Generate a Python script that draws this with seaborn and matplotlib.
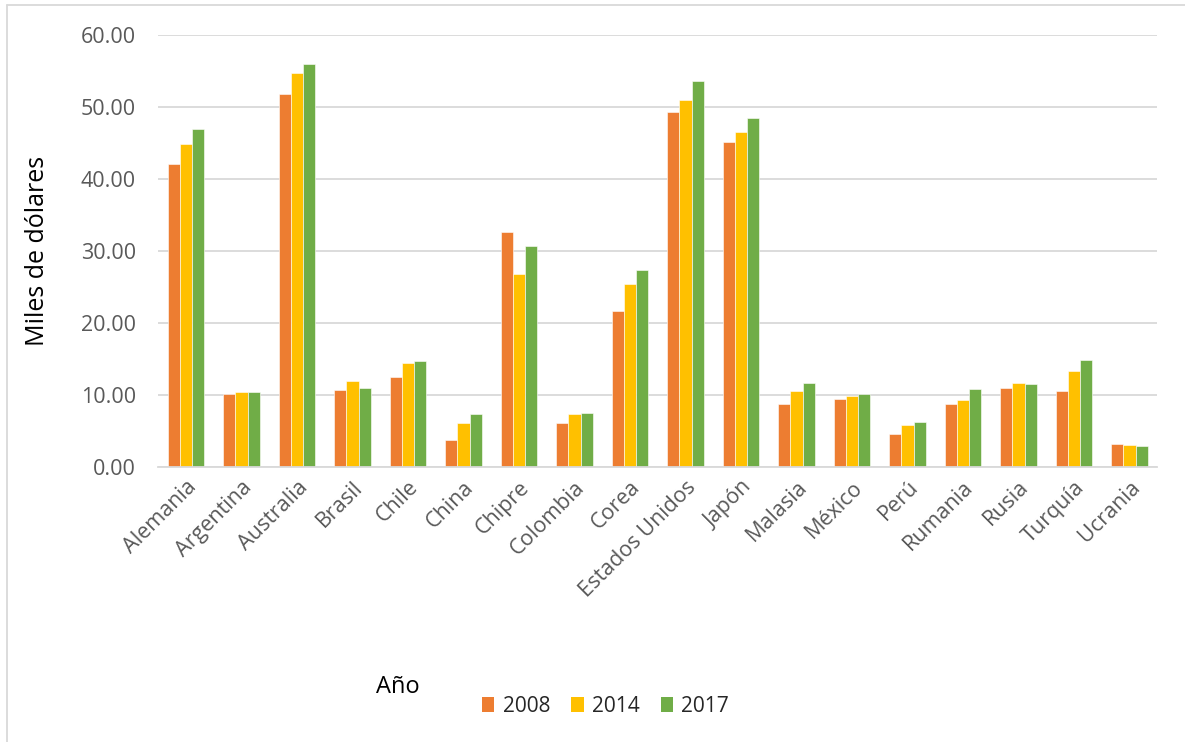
import matplotlib
matplotlib.use("Agg")
import matplotlib.pyplot as plt
from matplotlib.lines import Line2D
from matplotlib.patches import Patch
import seaborn as sns
import pandas as pd

# GDP per capita by country (thousands of dollars)
paises = ["Alemania", "Argentina", "Australia", "Brasil", "Chile", "China", "Chipre",
          "Colombia", "Corea", "Estados Unidos", "Japón", "Malasia", "México", "Perú",
          "Rumania", "Rusia", "Turquía", "Ucrania"]
anios = ["2008", "2014", "2017"]
v2008 = [42.1, 10.1, 51.8, 10.7, 12.5, 3.7, 32.6, 6.1, 21.6, 49.3, 45.1, 8.8, 9.5, 4.6, 8.8, 11.0, 10.6, 3.2]
v2014 = [44.9, 10.4, 54.7, 11.9, 14.5, 6.1, 26.8, 7.3, 25.4, 51.0, 46.5, 10.5, 9.8, 5.9, 9.3, 11.6, 13.3, 3.0]
v2017 = [46.9, 10.4, 56.0, 11.0, 14.7, 7.3, 30.7, 7.5, 27.4, 53.6, 48.5, 11.7, 10.2, 6.2, 10.9, 11.5, 14.9, 2.9]
colores = ["#ED7D31", "#FFC000", "#70AD47"]

df = pd.DataFrame({
    "pais": paises * 3,
    "anio": [a for a in anios for _ in paises],
    "valor": v2008 + v2014 + v2017,
})

sns.set_theme(style="white")
plt.rcParams["font.family"] = ["Open Sans", "DejaVu Sans"]

fig = plt.figure(figsize=(11.85, 7.42), dpi=100)
ax = fig.add_axes([0.1335, 0.3706, 0.843, 0.5822])

sns.barplot(data=df, x="pais", y="valor", hue="anio", hue_order=anios,
            palette=colores, width=0.66, gap=0, saturation=1,
            edgecolor="white", linewidth=0.4, legend=False, ax=ax)

ax.set_ylim(0, 60)
ax.set_xlim(-0.5, len(paises) - 0.5)
ax.set_yticks(range(0, 61, 10))
ax.set_yticklabels([f"{v:.2f}" for v in range(0, 61, 10)], color="#595959", fontsize=15.5)
ax.yaxis.grid(True, color="#D9D9D9", linewidth=1.3)
ax.set_axisbelow(True)
for s in ["top", "right", "left"]:
    ax.spines[s].set_visible(False)
ax.spines["bottom"].set_color("#D9D9D9")
ax.spines["bottom"].set_linewidth(1.3)
ax.tick_params(axis="y", length=0, pad=16)
ax.tick_params(axis="x", length=0, pad=7)
ax.set_xticks(range(len(paises)))
ax.set_xticklabels(paises, rotation=45, ha="right", va="top", rotation_mode="anchor",
                   color="#595959", fontsize=15.5)
ax.set_xlabel("")
ax.set_ylabel("Miles de dólares", fontsize=18, color="black")
ax.yaxis.set_label_coords(-0.108, 0.5)

fig.text(0.336, 0.066, "Año", fontsize=17, color="black", ha="center")

handles = [Patch(facecolor=c, edgecolor="none", label=a) for a, c in zip(anios, colores)]
fig.legend(handles=handles, loc="center", bbox_to_anchor=(0.511, 0.048), ncol=3,
           frameon=False, fontsize=15, handlelength=0.6, handleheight=0.7,
           handletextpad=0.4, columnspacing=1.0)

# chart area border (top and left edges)
fig.add_artist(Line2D([0.006, 1.0], [0.993, 0.993], color="#D9D9D9", linewidth=1.3,
                      transform=fig.transFigure))
fig.add_artist(Line2D([0.006, 0.006], [0.0, 0.993], color="#D9D9D9", linewidth=1.3,
                      transform=fig.transFigure))

fig.savefig("out.png", dpi=100, facecolor="white")
